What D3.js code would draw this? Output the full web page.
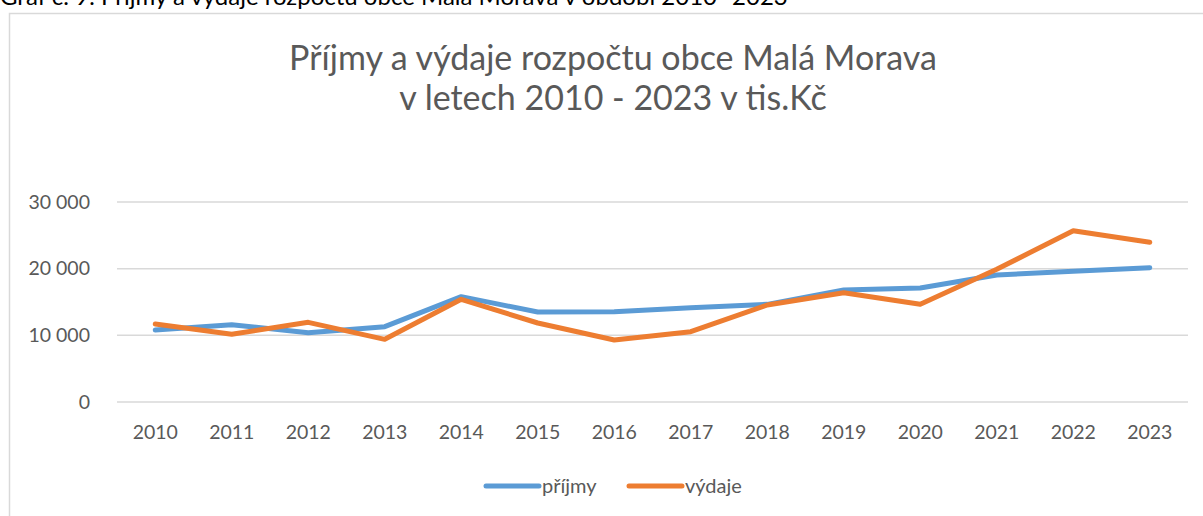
<!DOCTYPE html>
<html>
<head>
<meta charset="utf-8">
<script src="https://cdn.jsdelivr.net/npm/d3@7"></script>
<style>
  body { margin: 0; background: #fff; }
  svg { display: block; font-family: Lato, "Open Sans", sans-serif; }
</style>
</head>
<body>
<div id="viz"></div>
<script>
// data (tis. Kč)
var years  = ["2010","2011","2012","2013","2014","2015","2016","2017","2018","2019","2020","2021","2022","2023"];
var prijmy = [10800, 11600, 10400, 11300, 15800, 13500, 13550, 14150, 14650, 16800, 17100, 19050, 19600, 20150];
var vydaje = [11700, 10150, 11950, 9400, 15400, 11850, 9300, 10550, 14550, 16400, 14650, 19900, 25700, 23950];
var yTicks = [0, 10000, 20000, 30000];
var seriesNames = ["příjmy", "výdaje"];

var width = 1203, height = 516;
var margin = {top: 202, right: 15, bottom: 114, left: 117};

var svg = d3.select("#viz").append("svg")
  .attr("width", width)
  .attr("height", height);

// caption above the chart box (cut off at the top)
svg.append("text")
  .attr("x", 0)
  .attr("y", 5)
  .style("font-size", "24px")
  .style("fill", "#000")
  .text("Graf č. 9: Příjmy a výdaje rozpočtu obce Malá Morava v období 2010 -2023");

// chart box border
svg.append("rect")
  .attr("x", 9.5)
  .attr("y", 13.5)
  .attr("width", 1300)
  .attr("height", 600)
  .attr("fill", "none")
  .attr("stroke", "#D9D9D9")
  .attr("stroke-width", 1.5);

// title
var title = svg.append("text")
  .attr("text-anchor", "middle")
  .style("font-size", "34px")
  .style("fill", "#595959");
title.append("tspan").attr("x", 613).attr("y", 70).text("Příjmy a výdaje rozpočtu obce Malá Morava");
title.append("tspan").attr("x", 613).attr("y", 110).text("v letech 2010 - 2023 v tis.Kč");

var x = d3.scaleBand()
  .domain(years)
  .range([margin.left, width - margin.right]);

var y = d3.scaleLinear()
  .domain([0, 30000])
  .range([height - margin.bottom, margin.top]);

var fmt = function(d) { return d3.format(",")(d).replace(/,/g, " "); };

// gridlines
svg.append("g")
  .selectAll("line")
  .data(yTicks)
  .enter()
  .append("line")
  .attr("x1", margin.left)
  .attr("x2", width - margin.right)
  .attr("y1", function(d) { return y(d); })
  .attr("y2", function(d) { return y(d); })
  .attr("stroke", "#D9D9D9")
  .attr("stroke-width", 1.5);

// y axis labels
svg.append("g")
  .attr("transform", "translate(" + (margin.left - 24) + ",0)")
  .call(d3.axisLeft(y).tickValues(yTicks).tickFormat(fmt).tickSize(0))
  .call(function(g) { g.select(".domain").remove(); })
  .selectAll("text")
  .style("font-size", "19.5px")
  .style("font-family", "Lato, 'Open Sans', sans-serif")
  .style("fill", "#595959");

// x axis labels
svg.append("g")
  .attr("transform", "translate(0," + (height - margin.bottom + 20) + ")")
  .call(d3.axisBottom(x).tickSize(0))
  .call(function(g) { g.select(".domain").remove(); })
  .selectAll("text")
  .style("font-size", "19.5px")
  .style("font-family", "Lato, 'Open Sans', sans-serif")
  .style("fill", "#595959");

var colors = ["#5B9BD5", "#ED7D31"];
var allSeries = [prijmy, vydaje];

var line = d3.line()
  .x(function(d, i) { return x(years[i]) + x.bandwidth() / 2; })
  .y(function(d) { return y(d); });

allSeries.forEach(function(s, i) {
  svg.append("path")
    .datum(s)
    .attr("d", line)
    .attr("fill", "none")
    .attr("stroke", colors[i])
    .attr("stroke-width", 5)
    .attr("stroke-linecap", "round")
    .attr("stroke-linejoin", "round");
});

// legend
var legendX = [486, 629];
seriesNames.forEach(function(name, i) {
  var g = svg.append("g").attr("transform", "translate(" + legendX[i] + ",486)");
  g.append("line")
    .attr("x1", 0).attr("x2", 53)
    .attr("stroke", colors[i])
    .attr("stroke-width", 5)
    .attr("stroke-linecap", "round");
  g.append("text")
    .attr("x", 56)
    .attr("y", 7)
    .style("font-size", "20px")
    .style("fill", "#595959")
    .text(name);
});
</script>
</body>
</html>
